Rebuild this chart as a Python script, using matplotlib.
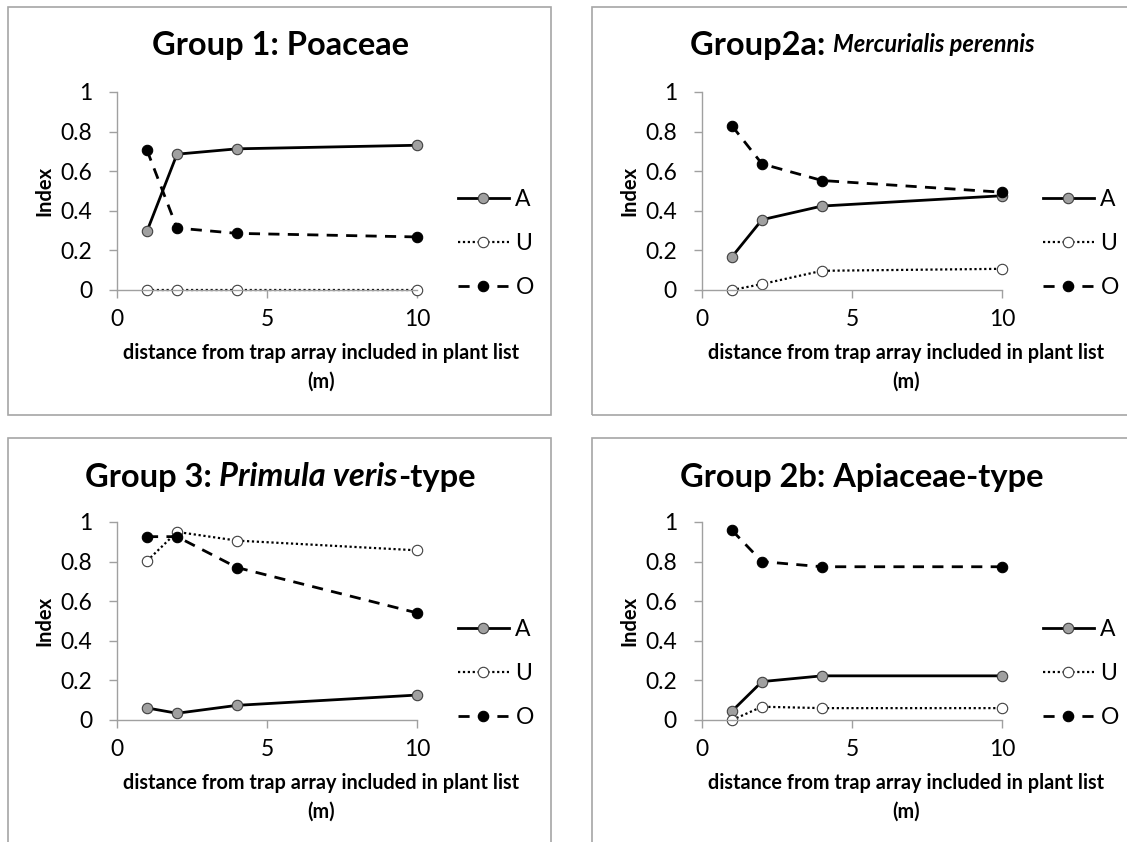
import matplotlib
matplotlib.use("Agg")
import matplotlib.pyplot as plt
from matplotlib.patches import Rectangle

plt.rcParams['font.family'] = ['Lato', 'DejaVu Sans']

# distance from trap array (m)
distance = [1, 2, 4, 10]

# Group 1: Poaceae
g1_A = [0.297, 0.686, 0.713, 0.731]
g1_U = [0.0, 0.0, 0.0, 0.0]
g1_O = [0.706, 0.313, 0.286, 0.268]

# Group 2a: Mercurialis perennis
g2a_A = [0.168, 0.355, 0.424, 0.476]
g2a_U = [0.0, 0.030, 0.097, 0.107]
g2a_O = [0.829, 0.637, 0.553, 0.494]

# Group 3: Primula veris-type
g3_A = [0.061, 0.034, 0.074, 0.126]
g3_U = [0.803, 0.950, 0.906, 0.857]
g3_O = [0.926, 0.926, 0.770, 0.541]

# Group 2b: Apiaceae-type
g2b_A = [0.045, 0.194, 0.223, 0.223]
g2b_U = [0.0, 0.067, 0.060, 0.060]
g2b_O = [0.958, 0.800, 0.774, 0.774]

series_names = ['A', 'U', 'O']
y_ticks = [0, 0.2, 0.4, 0.6, 0.8, 1]
y_ticklabels = ['0', '0.2', '0.4', '0.6', '0.8', '1']
x_ticks = [0, 5, 10]

W, H = 1127, 842
fig = plt.figure(figsize=(W / 100, H / 100), dpi=100)
fig.patch.set_facecolor('white')

border = '#a6a6a6'
axis_col = '#a0a0a0'


def px(x, y):
    return x / W, 1 - y / H


# panel boxes (pixel coords: left, top, right, bottom)
for l, t, r, b in [(8, 7, 551, 415), (592, 7, 1135, 415),
                   (8, 438, 551, 850), (592, 438, 1135, 850)]:
    fig.patches.append(Rectangle((l / W, 1 - b / H), (r - l) / W, (b - t) / H,
                                 transform=fig.transFigure, fill=False,
                                 edgecolor=border, linewidth=1.2))


def draw_panel(x0, y0, A, U, O):
    # x0: pixel of x=0, y0: pixel of y=0
    ax = fig.add_axes([x0 / W, 1 - y0 / H, 300 / W, 198 / H])
    ax.plot(distance, A, '-', color='black', lw=2.0, marker='o', ms=7.5,
            mfc='#a0a0a0', mec='#404040', mew=0.8, label=series_names[0], clip_on=False)
    ax.plot(distance, U, linestyle=(0, (1, 1.2)), color='black', lw=1.6, marker='o', ms=7.5,
            mfc='white', mec='#404040', mew=0.8, label=series_names[1], clip_on=False)
    ax.plot(distance, O, linestyle=(0, (4, 3)), color='black', lw=2.0, marker='o', ms=7.5,
            mfc='black', mec='black', mew=0.8, label=series_names[2], clip_on=False)
    ax.set_xlim(0, 10)
    ax.set_ylim(0, 1)
    ax.set_xticks(x_ticks)
    ax.set_yticks(y_ticks)
    ax.set_yticklabels(y_ticklabels)
    for s in ['top', 'right']:
        ax.spines[s].set_visible(False)
    for s in ['left', 'bottom']:
        ax.spines[s].set_color(axis_col)
        ax.spines[s].set_linewidth(1.0)
    ax.tick_params(axis='both', direction='out', length=6, width=1.0,
                   color=axis_col, labelsize=16.5, labelcolor='black')
    ax.tick_params(axis='y', pad=12)
    ax.tick_params(axis='x', pad=8)
    ax.set_ylabel('Index', fontsize=14.5, fontweight='bold')
    ax.yaxis.set_label_coords(-0.21, 0.5)
    ax.patch.set_alpha(0)
    ax.legend(loc='center left', bbox_to_anchor=(1.137, 0.235), frameon=False,
              fontsize=16.5, handlelength=2.2, handletextpad=0.3,
              labelspacing=1.0, borderaxespad=0, borderpad=0)
    return ax


draw_panel(117, 290, g1_A, g1_U, g1_O)
draw_panel(702, 290, g2a_A, g2a_U, g2a_O)
draw_panel(117, 720, g3_A, g3_U, g3_O)
draw_panel(702, 720, g2b_A, g2b_U, g2b_O)

# x axis titles
for xc, yc in [(321, 353), (906, 353), (321, 783), (906, 783)]:
    fx, fy = px(xc, yc)
    fig.text(fx, fy, 'distance from trap array included in plant list', ha='center',
             va='center', fontsize=14.3, fontweight='bold')
    fx, fy = px(xc, yc + 29)
    fig.text(fx, fy, '(m)', ha='center', va='center', fontsize=14.3, fontweight='bold')


# titles with mixed styles
renderer = fig.canvas.get_renderer()


def title_parts(xc, yc, parts):
    texts = []
    widths = []
    for txt, style, size in parts:
        t = fig.text(0, 1 - yc / H, txt, ha='left', va='center', fontsize=size,
                     fontweight='bold', fontstyle=style)
        texts.append(t)
        widths.append(t.get_window_extent(renderer).width)
    x = xc - sum(widths) / 2
    for t, w in zip(texts, widths):
        t.set_x(x / W)
        x += w


title_parts(280, 45, [('Group 1: Poaceae', 'normal', 23.5)])
title_parts(862, 45, [('Group2a: ', 'normal', 23.5), ('Mercurialis perennis', 'italic', 17)])
title_parts(280, 477, [('Group 3: ', 'normal', 23.5), ('Primula veris', 'italic', 23.5),
                       ('-type', 'normal', 23.5)])
title_parts(862, 477, [('Group 2b: Apiaceae-type', 'normal', 23.5)])

fig.savefig('out.png', dpi=100)
